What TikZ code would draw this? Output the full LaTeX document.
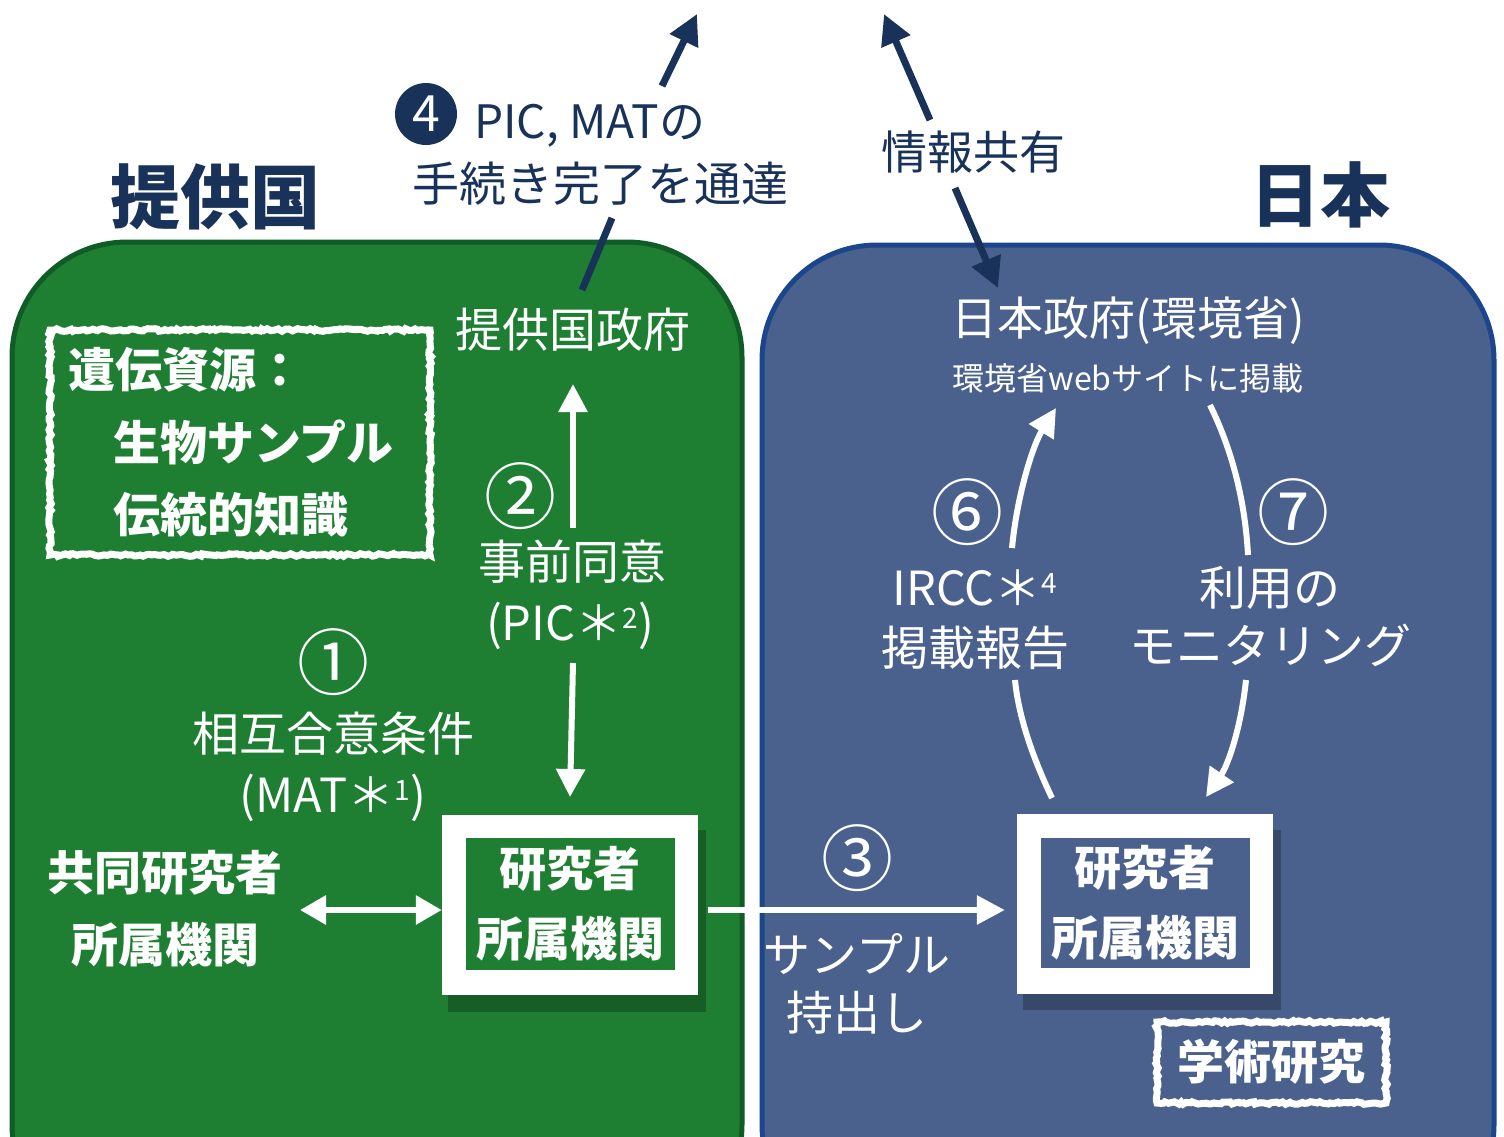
\documentclass[tikz,border=0pt]{standalone}
\usepackage{fontspec}
\setmainfont{Noto Sans CJK JP}
\usetikzlibrary{decorations.pathmorphing,arrows.meta,calc}
\definecolor{gfill}{RGB}{30,126,50}
\definecolor{gedge}{RGB}{16,92,38}
\definecolor{bfill}{RGB}{74,97,141}
\definecolor{bedge}{RGB}{28,70,140}
\definecolor{navy}{RGB}{24,50,90}
\tikzset{
  tx/.style={text=white, inner sep=0pt, align=center, font=\fontsize{47}{62}\selectfont},
  txb/.style={text=white, inner sep=0pt, align=center, font=\fontsize{47}{72}\selectfont\bfseries},
  head/.style={text=navy, inner sep=0pt, font=\fontsize{70}{80}\selectfont\bfseries},
  num/.style={text=white, inner sep=0pt, font=\fontsize{72}{72}\selectfont},
  warrow/.style={draw=white, line width=6pt, -{Triangle[length=28pt,width=28pt]}},
  wline/.style={draw=white, line width=6pt},
  narrow/.style={draw=navy, line width=7pt, -{Triangle[length=30pt,width=30pt]}},
  nline/.style={draw=navy, line width=7pt},
  chalk/.style={draw=white, line width=7pt, decorate, decoration={random steps, segment length=3pt, amplitude=1.3pt}},
  outerbox/.style={fill=white, inner sep=0pt, minimum width=256pt, minimum height=180pt},
}
\begin{document}
\begin{tikzpicture}[x=1pt,y=-1pt]
\useasboundingbox (0,0) rectangle (1504,1136);
\fill[white] (0,0) rectangle (1504,1136);
\begin{scope}
\clip (0,0) rectangle (1504,1136);
% panels
\draw[fill=gfill, draw=gedge, line width=5pt, rounded corners=115pt] (12,242) rectangle (742,1240);
\draw[fill=bfill, draw=bedge, line width=5pt, rounded corners=115pt] (762,245) rectangle (1494,1240);
\end{scope}

% headers
\node[head] (hL) at (215,197) {提供国};
\node[head] (hR) at (1320,195) {日本};

% step 4 label
\node[circle, fill=navy, minimum size=62pt, inner sep=0pt, text=white, font=\fontsize{50}{50}\selectfont] (n4) at (426,114) {4};
\node[text=navy, inner sep=0pt, anchor=west, font=\fontsize{46}{58}\selectfont] (t4a) at (474,126) {PIC, MATの};
\node[text=navy, inner sep=0pt, font=\fontsize{47}{58}\selectfont] (t4b) at (600,184) {手続き完了を通達};
\node[text=navy, inner sep=0pt, font=\fontsize{46}{58}\selectfont] (share) at (973,152) {情報共有};

% left panel
\draw[chalk] (50,330) rectangle (430,555);
\node[txb, anchor=west] (gr1) at (68,370) {遺伝資源：};
\node[txb, anchor=west] (gr2) at (113,442) {生物サンプル};
\node[txb, anchor=west] (gr3) at (113,515) {伝統的知識};

\node[tx] (gov) at (573,330) {提供国政府};
\node[num] (c2) at (520,496) {②};
\node[tx] (pic1) at (572,562) {事前同意};
\node[tx] (pic2) at (570,626) {(PIC＊\raisebox{12pt}{\fontsize{28}{28}\selectfont 2})};
\node[num] (c1) at (333,662) {①};
\node[tx] (mat1) at (333,734) {相互合意条件};
\node[tx] (mat2) at (333,798) {(MAT＊\raisebox{12pt}{\fontsize{28}{28}\selectfont 1})};
\node[txb] (co) at (165,909) {共同研究者\\所属機関};

\fill[black, opacity=.25] (448,830) rectangle (706,1012);
\node[outerbox] (rLo) at (570,905) {};
\node[fill=gfill, minimum width=209pt, minimum height=132pt, inner sep=0pt, text=white, align=center, font=\fontsize{47}{70}\selectfont\bfseries] (rL) at (570,904) {研究者\\所属機関};

% right panel
\node[tx, font=\fontsize{46}{58}\selectfont] (jgov) at (1128,321) {日本政府(環境省)};
\node[tx, font=\fontsize{32}{40}\selectfont] (web) at (1128,378) {環境省webサイトに掲載};
\node[num] (c6) at (967,512) {⑥};
\node[tx] (ir1) at (975,588) {IRCC＊\raisebox{12pt}{\fontsize{28}{28}\selectfont 4}};
\node[tx] (ir2) at (975,648) {掲載報告};
\node[num] (c7) at (1293,512) {⑦};
\node[tx] (mo1) at (1270,588) {利用の};
\node[tx] (mo2) at (1270,645) {モニタリング};

\fill[black, opacity=.25] (1023,830) rectangle (1281,1010);
\node[outerbox] (rRo) at (1145,904) {};
\node[fill=bfill, minimum width=209pt, minimum height=130pt, inner sep=0pt, text=white, align=center, font=\fontsize{47}{70}\selectfont\bfseries] (rR) at (1145,903) {研究者\\所属機関};

\draw[chalk] (1157,1022) rectangle (1386,1103);
\node[txb] (acad) at (1271,1062) {学術研究};

\node[tx] (smp) at (857,984) {サンプル\\[-4pt]持出し};
\node[num] (c3) at (857,858) {③};

% connectors
\coordinate (a4s) at (582,290);
\coordinate (a4m) at (612,218);
\coordinate (a4n) at (662,86);
\coordinate (a4e) at (697,14);
\draw[nline] (a4s) -- (a4m);
\draw[narrow] (a4n) -- (a4e);
\coordinate (shA) at (930,120);
\coordinate (shAe) at (884,14);
\coordinate (shB) at (955,188);
\coordinate (shBe) at (998,288);
\draw[narrow] (shA) -- (shAe);
\draw[narrow] (shB) -- (shBe);

\draw[warrow] (573,528) -- (gov.south |- 0,384);
\draw[warrow] (573,663) -- (rLo.north |- 0,797);
\draw[wline, {Triangle[length=26pt,width=28pt]}-{Triangle[length=26pt,width=28pt]}] (300,910) -- (rLo.west |- 0,910);
\draw[warrow, shorten <=10pt, shorten >=12pt] (rLo.east |- 0,910) -- (rRo.west |- 0,910);

\draw[wline] (1052,798) .. controls (1030,752) and (1018,712) .. (1015,680);
\draw[warrow] (1012,548) .. controls (1017,495) and (1033,445) .. (1056,408);
\draw[wline] (1210,405) .. controls (1232,450) and (1245,500) .. (1248,555);
\draw[warrow] (1246,680) .. controls (1241,728) and (1228,765) .. (1206,797);
\end{tikzpicture}
\end{document}
